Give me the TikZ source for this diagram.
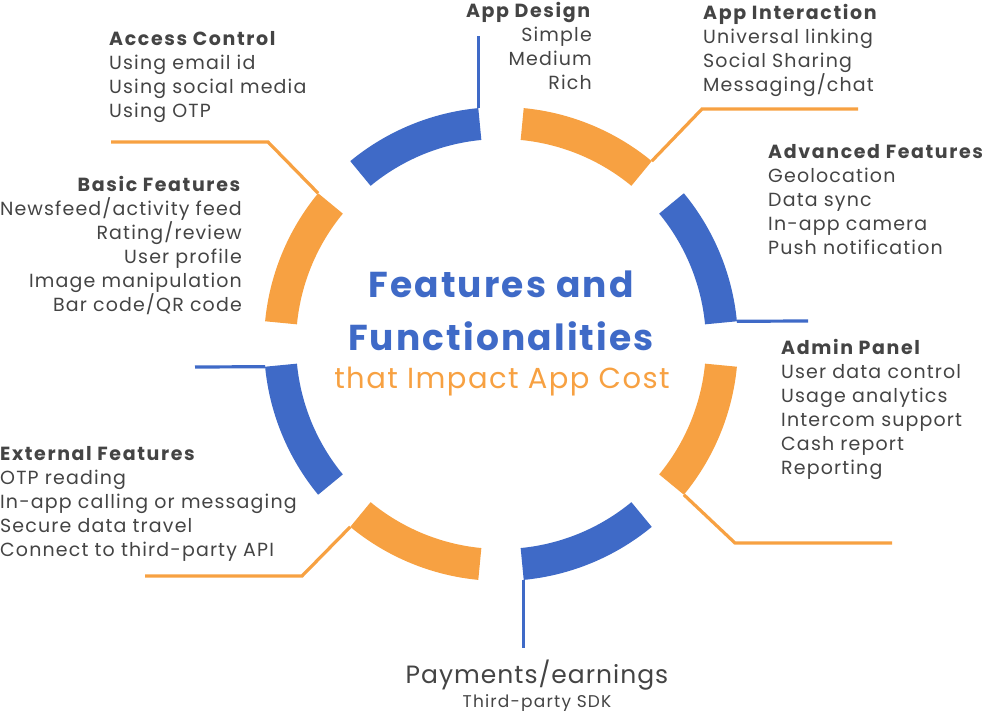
\documentclass[tikz,border=0pt]{standalone}
\usepackage{fontspec}
\setmainfont{Poppins}[LetterSpace=6, BoldFeatures={LetterSpace=8.5}]
\newfontfamily\titlefont{Poppins}[LetterSpace=6]
\newfontfamily\subfont{Poppins}[LetterSpace=5]
\newfontfamily\payfont{Poppins}[LetterSpace=4]
\newfontfamily\sdkfont{Poppins}[LetterSpace=7]
\definecolor{cblue}{HTML}{3F6AC7}
\definecolor{corange}{HTML}{F7A142}
\definecolor{ctext}{HTML}{444444}
\begin{document}
\begin{tikzpicture}[x=1pt,y=-1pt,
  lbl/.style={font=\fontsize{19}{24}\selectfont, text=ctext, inner sep=0pt},
  bline/.style={draw=cblue, line width=3.2pt},
  oline/.style={draw=corange, line width=3.2pt}]
\useasboundingbox (0,0) rectangle (985,711);
% ring
\begin{scope}[shift={(501,344)}, y=1pt]
  \foreach \k/\c in {0/cblue,1/corange,2/cblue,3/corange,4/cblue,5/corange,6/cblue,7/corange}{
    \pgfmathsetmacro{\aa}{45*\k+5.5}
    \pgfmathsetmacro{\bb}{45*\k+39.5}
    \fill[\c] (\aa:237) arc[start angle=\aa, end angle=\bb, radius=237]
      -- (\bb:205) arc[start angle=\bb, end angle=\aa, radius=205] -- cycle;
  }
  \coordinate (c0) at (5.5:237);
  \coordinate (c1) at (50.5:237);
  \coordinate (c2) at (95.5:237);
  \coordinate (c3) at (140.5:237);
  \coordinate (c4) at (185.5:237);
  \coordinate (c5) at (230.5:237);
  \coordinate (c6) at (275.5:237);
  \coordinate (c7) at (320.5:237);
\end{scope}
% leader end points
\coordinate (t2) at (c2 |- 0,36);
\coordinate (k1) at (702,109);
\coordinate (t1) at (858,109);
\coordinate (t0) at (808,321);
\coordinate (k7) at (735,543);
\coordinate (t7) at (892,543);
\coordinate (t6) at (c6 |- 0,648);
\coordinate (k5) at (302,576);
\coordinate (t5) at (145,576);
\coordinate (t4) at (195,367);
\coordinate (k3) at (268,142);
\coordinate (t3) at (111,142);
% leaders
\draw[bline] (c2) -- (t2);
\draw[oline] (c1) -- (k1) -- (t1);
\draw[bline] (c0) -- (t0);
\draw[oline] (c7) -- (k7) -- (t7);
\draw[bline] (c6) -- (t6);
\draw[oline] (c5) -- (k5) -- (t5);
\draw[bline] (c4) -- (t4);
\draw[oline] (c3) -- (k3) -- (t3);
% labels
\node[lbl, anchor=north east, align=right] (design) at (592,2)
  {\textbf{App Design}\\Simple\\Medium\\Rich};
\node[lbl, anchor=north west, align=left] (access) at (109,31)
  {\textbf{Access Control}\\Using email id\\Using social media\\Using OTP};
\node[lbl, anchor=north west, align=left] (interaction) at (703,4)
  {\textbf{App Interaction}\\Universal linking\\Social Sharing\\Messaging/chat};
\node[lbl, anchor=north west, align=left] (advanced) at (768,144)
  {\textbf{Advanced Features}\\Geolocation\\Data sync\\In-app camera\\Push notification};
\node[lbl, anchor=north east, align=right] (basic) at (242,176)
  {\textbf{Basic Features}\\Newsfeed/activity feed\\Rating/review\\User profile\\Image manipulation\\Bar code/QR code};
\node[lbl, anchor=north west, align=left] (admin) at (781,339)
  {\textbf{Admin Panel}\\User data control\\Usage analytics\\Intercom support\\Cash report\\Reporting};
\node[lbl, anchor=north west, align=left] (external) at (0,446)
  {\textbf{External Features}\\OTP reading\\In-app calling or messaging\\Secure data travel\\Connect to third-party API};
\node[lbl, anchor=base, font=\payfont\fontsize{25}{30}\selectfont] (pay) at (537,683) {Payments/earnings};
\node[lbl, anchor=base, font=\sdkfont\fontsize{17}{20}\selectfont] (sdk) at (537,707) {Third-party SDK};
% title
\node[inner sep=0pt, anchor=base, text=cblue, font=\titlefont\fontsize{36}{40}\selectfont\bfseries] (t-a) at (501,298) {Features and};
\node[inner sep=0pt, anchor=base, text=cblue, font=\titlefont\fontsize{36}{40}\selectfont\bfseries] (t-b) at (501,350) {Functionalities};
\node[inner sep=0pt, anchor=base, text=corange, font=\subfont\fontsize{29}{32}\selectfont] (t-c) at (502,388) {that Impact App Cost};
\end{tikzpicture}
\end{document}
